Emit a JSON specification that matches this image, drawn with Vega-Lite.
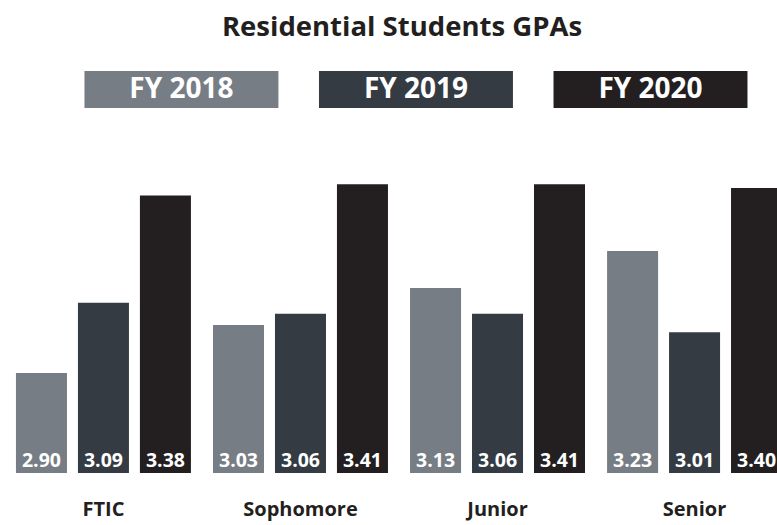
{
  "$schema": "https://vega.github.io/schema/vega-lite/v6.json",
  "background": "white",
  "padding": {"top": 13, "left": 0, "right": 0, "bottom": 6},
  "title": {
    "text": "Residential Students GPAs",
    "font": "Open Sans",
    "fontSize": 27.5,
    "fontWeight": "bold",
    "color": "#231f20",
    "anchor": "middle",
    "dx": 3,
    "offset": 30
  },
  "datasets": {
    "gpas": [
      {"level": "FTIC", "year": "FY 2018", "gpa": 2.90},
      {"level": "FTIC", "year": "FY 2019", "gpa": 3.09},
      {"level": "FTIC", "year": "FY 2020", "gpa": 3.38},
      {"level": "Sophomore", "year": "FY 2018", "gpa": 3.03},
      {"level": "Sophomore", "year": "FY 2019", "gpa": 3.06},
      {"level": "Sophomore", "year": "FY 2020", "gpa": 3.41},
      {"level": "Junior", "year": "FY 2018", "gpa": 3.13},
      {"level": "Junior", "year": "FY 2019", "gpa": 3.06},
      {"level": "Junior", "year": "FY 2020", "gpa": 3.41},
      {"level": "Senior", "year": "FY 2018", "gpa": 3.23},
      {"level": "Senior", "year": "FY 2019", "gpa": 3.01},
      {"level": "Senior", "year": "FY 2020", "gpa": 3.40}
    ],
    "years": [
      {"year": "FY 2018"},
      {"year": "FY 2019"},
      {"year": "FY 2020"}
    ]
  },
  "spacing": 43,
  "vconcat": [
    {
      "width": 777,
      "height": 37,
      "data": {"name": "years"},
      "encoding": {
        "x": {
          "field": "year",
          "type": "nominal",
          "sort": ["FY 2018", "FY 2019", "FY 2020"],
          "axis": null,
          "scale": {"paddingInner": 0.173, "paddingOuter": 0.243, "align": 0.741}
        }
      },
      "layer": [
        {
          "mark": {"type": "bar"},
          "encoding": {
            "color": {
              "field": "year",
              "type": "nominal",
              "scale": {"domain": ["FY 2018", "FY 2019", "FY 2020"], "range": ["#777d84", "#343b43", "#231f20"]},
              "legend": null
            }
          }
        },
        {
          "mark": {"type": "text", "color": "white", "font": "Open Sans", "fontSize": 28, "fontWeight": "bold", "baseline": "middle"},
          "encoding": {
            "text": {"field": "year", "type": "nominal"}
          }
        }
      ]
    },
    {
      "width": 777,
      "height": 322,
      "data": {"name": "gpas"},
      "encoding": {
        "x": {
          "field": "level",
          "type": "nominal",
          "sort": ["FTIC", "Sophomore", "Junior", "Senior"],
          "scale": {"range": [0, 798], "paddingInner": 0.112, "paddingOuter": 0.081},
          "axis": {
            "title": null,
            "domain": false,
            "ticks": false,
            "tickSize": 0,
            "labelAngle": 0,
            "labelFont": "Open Sans",
            "labelFontSize": 20,
            "labelFontWeight": "bold",
            "labelColor": "#231f20",
            "labelPadding": 42,
            "labelBaseline": "alphabetic"
          }
        },
        "xOffset": {
          "field": "year",
          "type": "nominal",
          "sort": ["FY 2018", "FY 2019", "FY 2020"],
          "scale": {"paddingInner": 0.177, "paddingOuter": 0}
        }
      },
      "layer": [
        {
          "mark": {"type": "bar", "clip": true},
          "encoding": {
            "y": {
              "field": "gpa",
              "type": "quantitative",
              "scale": {"domain": [2.63, 3.5], "zero": false, "nice": false},
              "axis": null
            },
            "color": {
              "field": "year",
              "type": "nominal",
              "scale": {"domain": ["FY 2018", "FY 2019", "FY 2020"], "range": ["#777d84", "#343b43", "#231f20"]},
              "legend": null
            }
          }
        },
        {
          "mark": {"type": "text", "color": "white", "font": "Open Sans", "fontSize": 19.5, "fontWeight": "bold", "baseline": "alphabetic", "dy": -6},
          "encoding": {
            "y": {"datum": 2.63, "type": "quantitative"},
            "text": {"field": "gpa", "type": "quantitative", "format": ".2f"}
          }
        }
      ]
    }
  ],
  "config": {"view": {"stroke": null}}
}
